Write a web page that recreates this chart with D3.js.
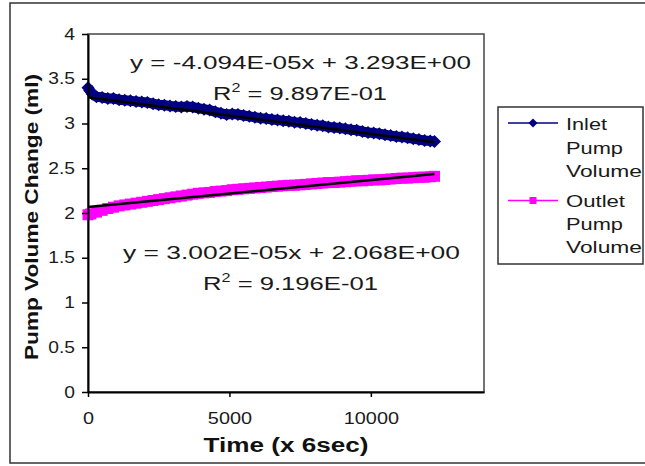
<!DOCTYPE html>
<html><head><meta charset="utf-8">
<script src="https://cdn.jsdelivr.net/npm/d3@7"></script>
<style>body{margin:0;background:#fff}svg{display:block}text{font-family:"Liberation Sans",Arial,sans-serif}</style>
</head><body><svg width="645" height="466"></svg>
<script>
// ---- data ----
const inletX = [0,60,150,300,500,700,900,1100,1300,1500,1700,1900,2100,2300,2500,2700,2900,3100,3300,3500,3700,3900,4100,4300,4500,4700,4900,5100,5300,5500,5700,5900,6100,6300,6500,6700,6900,7100,7300,7500,7700,7900,8100,8300,8500,8700,8900,9100,9300,9500,9700,9900,10100,10300,10500,10700,10900,11100,11300,11500,11700,11900,12100,12250];
const inletY = [3.40,3.37,3.33,3.30,3.29,3.28,3.28,3.265,3.26,3.255,3.245,3.24,3.235,3.22,3.21,3.205,3.195,3.19,3.185,3.19,3.185,3.17,3.16,3.15,3.13,3.115,3.10,3.105,3.10,3.09,3.08,3.07,3.06,3.055,3.045,3.04,3.03,3.025,3.015,3.01,3.00,2.99,2.98,2.975,2.96,2.955,2.95,2.94,2.93,2.925,2.91,2.90,2.895,2.885,2.875,2.865,2.855,2.85,2.84,2.83,2.82,2.81,2.805,2.80];
const outletX = [0,100,300,500,700,900,1100,1300,1500,1700,1900,2100,2300,2500,2700,2900,3100,3300,3500,3700,3900,4100,4300,4500,4700,4900,5100,5300,5500,5700,5900,6100,6300,6500,6700,6900,7100,7300,7500,7700,7900,8100,8300,8500,8700,8900,9100,9300,9500,9700,9900,10100,10300,10500,10700,10900,11100,11300,11500,11700,11900,12100,12250];
const outletY = [1.98,1.99,2.01,2.03,2.05,2.065,2.08,2.09,2.10,2.11,2.12,2.13,2.14,2.15,2.16,2.17,2.18,2.19,2.20,2.21,2.22,2.225,2.23,2.24,2.245,2.25,2.26,2.265,2.27,2.275,2.28,2.285,2.29,2.295,2.30,2.305,2.31,2.31,2.315,2.32,2.325,2.33,2.335,2.34,2.34,2.345,2.35,2.355,2.36,2.36,2.365,2.37,2.37,2.375,2.38,2.385,2.39,2.39,2.395,2.40,2.40,2.405,2.41];
const trendSlope = [-4.094e-5, 3.002e-5];
const trendIntercept = [3.293, 2.068];
const trendRange = [0, 12250];
const yTicks = [0,0.5,1,1.5,2,2.5,3,3.5,4];
const xTicks = [0,5000,10000];
const seriesNames = [["Inlet","Pump","Volume"],["Outlet","Pump","Volume"]];
const seriesColors = ["#000080","#FF00FF"];

// ---- drawing ----
const svg = d3.select("svg");
const x = d3.scaleLinear().domain([0,14000]).range([88,484]);
const y = d3.scaleLinear().domain([0,4]).range([392,34]);

function stretch(sel, k){
  sel.each(function(){ const w=this.getComputedTextLength(); d3.select(this).attr("textLength",w*k).attr("lengthAdjust","spacingAndGlyphs"); });
}
function fit(sel, w){ sel.attr("textLength",w).attr("lengthAdjust","spacingAndGlyphs"); }

svg.append("rect").attr("x",10).attr("y",3).attr("width",660).attr("height",460)
  .attr("fill","#fff").attr("stroke","#333").attr("stroke-width",1.5);
svg.append("rect").attr("x",88).attr("y",34).attr("width",396).attr("height",358)
  .attr("fill","none").attr("stroke","#444").attr("stroke-width",1.5);

// series
const line = d3.line().x(d=>x(d[0])).y(d=>y(d[1]));
const outPts = outletX.map((v,i)=>[v,outletY[i]]);
const inPts = inletX.map((v,i)=>[v,inletY[i]]);
svg.append("path").datum(outPts).attr("d",line).attr("fill","none")
  .attr("stroke",seriesColors[1]).attr("stroke-width",10);
svg.append("g").selectAll("rect").data(outPts).join("rect")
  .attr("x",d=>x(d[0])-5.5).attr("y",d=>y(d[1])-5.5).attr("width",11).attr("height",11)
  .attr("fill",seriesColors[1]);
svg.append("path").datum(inPts).attr("d",line).attr("fill","none")
  .attr("stroke",seriesColors[0]).attr("stroke-width",10).attr("stroke-linejoin","round");
svg.append("g").selectAll("path").data(inPts).join("path")
  .attr("d",d=>{const cx=x(d[0]),cy=y(d[1]),r=6.5;return `M${cx},${cy-r}L${cx+r},${cy}L${cx},${cy+r}L${cx-r},${cy}Z`;})
  .attr("fill",seriesColors[0]);

// trend lines
trendSlope.forEach((m,i)=>{
  const pts = trendRange.map(t=>[t, m*t+trendIntercept[i]]);
  svg.append("path").datum(pts).attr("d",line).attr("stroke","#000").attr("stroke-width",2.5).attr("fill","none");
});

// axes
const gy = svg.append("g").attr("transform","translate(88,0)")
  .call(d3.axisLeft(y).tickValues(yTicks).tickFormat(d=>String(d)).tickSize(6).tickSizeOuter(0).tickPadding(7));
const gx = svg.append("g").attr("transform","translate(0,392)")
  .call(d3.axisBottom(x).tickValues(xTicks).tickFormat(d=>String(d)).tickSize(5).tickSizeOuter(0));
[gx,gy].forEach(g=>{
  g.select(".domain").attr("stroke","#000").attr("stroke-width",2);
  g.selectAll(".tick line").attr("stroke","#000").attr("stroke-width",1.5);
  g.selectAll("text").attr("font-size",16).attr("fill","#1a1a1a").attr("font-family","Liberation Sans, Arial, sans-serif");
});
gx.selectAll("text").attr("y",32).attr("dy",null);
stretch(gx.selectAll("text"),1.24);
stretch(gy.selectAll("text"),1.2);

// axis titles
svg.append("text").attr("x",286).attr("y",452).attr("text-anchor","middle")
  .attr("font-size",20).attr("font-weight","bold").attr("fill","#111").text("Time (x 6sec)").call(fit,165);
svg.append("text").attr("transform","translate(38,217) rotate(-90)").attr("text-anchor","middle")
  .attr("font-size",19).attr("font-weight","bold").attr("fill","#111").text("Pump Volume Change (ml)").call(fit,286);

// equations
function eq(xp, yp, str, w){
  svg.append("text").attr("x",xp).attr("y",yp).attr("font-size",19).attr("fill","#1a1a1a").text(str).call(fit,w);
}
function r2(xp, yp, val, w){
  const t = svg.append("text").attr("x",xp).attr("y",yp).attr("font-size",19).attr("fill","#1a1a1a");
  t.append("tspan").text("R");
  t.append("tspan").attr("font-size",12).attr("dy",-8).text("2");
  t.append("tspan").attr("dy",8).text(" = "+val);
  t.call(fit,w);
}
eq(130,69,"y = -4.094E-05x + 3.293E+00",341);
r2(213,100,"9.897E-01",174);
eq(123,259,"y = 3.002E-05x + 2.068E+00",337);
r2(203,290,"9.196E-01",175);

// legend
svg.append("rect").attr("x",498).attr("y",107).attr("width",145).attr("height",157)
  .attr("fill","#fff").attr("stroke","#333").attr("stroke-width",1.5);
const legY = [123,200.5];
const legW = [[41,57,76],[59,57,76]];
const legBase = [[129.5,154,176.5],[206.5,230,252.5]];
legY.forEach((ly,i)=>{
  svg.append("line").attr("x1",508).attr("x2",558).attr("y1",ly).attr("y2",ly).attr("stroke",seriesColors[i]).attr("stroke-width",1.5);
  if(i===0){
    const r=4.5;
    svg.append("path").attr("d",`M533,${ly-r}L${533+r},${ly}L533,${ly+r}L${533-r},${ly}Z`).attr("fill",seriesColors[0]);
  } else {
    svg.append("rect").attr("x",529.5).attr("y",ly-3.5).attr("width",7).attr("height",7).attr("fill",seriesColors[1]);
  }
  seriesNames[i].forEach((s,j)=>{
    svg.append("text").attr("x",566).attr("y",legBase[i][j]).attr("font-size",17).attr("fill","#1a1a1a").text(s).call(fit,legW[i][j]);
  });
});
</script></body></html>
